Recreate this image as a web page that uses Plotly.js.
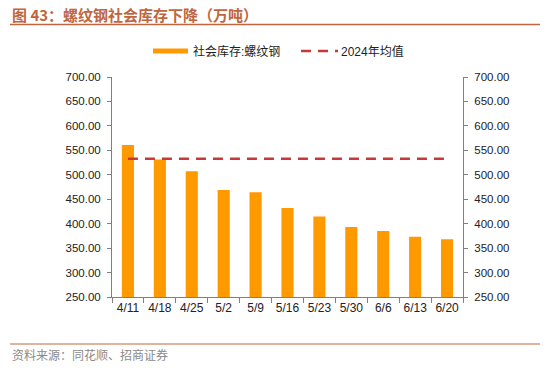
<!DOCTYPE html>
<html><head><meta charset="utf-8">
<script src="https://cdn.plot.ly/plotly-3.0.1.min.js"></script>
<style>html,body{margin:0;padding:0;background:#fff;}#c{width:550px;height:370px;}</style>
</head><body><div id="c"></div>
<script>
const categories = ["4/11","4/18","4/25","5/2","5/9","5/16","5/23","5/30","6/6","6/13","6/20"];
const stockValues = [561, 531, 507, 469, 464.5, 432, 414.5, 393, 385, 373, 368];
const avg2024 = [533, 533, 533, 533, 533, 533, 533, 533, 533, 533, 533];
const seriesNames = ["社会库存:螺纹钢", "2024年均值"];
const titleText = "图 43：螺纹钢社会库存下降（万吨）";
const sourceText = "资料来源：同花顺、招商证券";

const font = "Arial, 'Liberation Sans', 'Noto Sans CJK SC', sans-serif";
const barColor = "#FF9900", lineColor = "#C8383A", brand = "#C0663E";
const traces = [
  {type:"bar", x:categories, y:stockValues, name:seriesNames[0], marker:{color:barColor}, width:0.38},
  {type:"scatter", mode:"lines", x:categories, y:avg2024, name:seriesNames[1], line:{color:lineColor, width:2.5, dash:"10px,7px"}, yaxis:"y2"}
];
const axisCommon = {range:[250,700], dtick:50, tick0:250, tickformat:".2f", showgrid:false, zeroline:false,
  showline:true, linecolor:"#808080", linewidth:1, ticks:"outside", ticklen:4, tickcolor:"#808080",
  ticklabelstandoff:4, tickfont:{family:font, size:11.5, color:"#222"}};
const L = 112, R = 463, T = 77, B = 297;
const pw = R - L, ph = B - T;
const px = x => (x - L) / pw, py = y => (B - y) / ph;
const layout = {
  width:550, height:370, margin:{l:L, r:550-R, t:T, b:370-B},
  paper_bgcolor:"#fff", plot_bgcolor:"#fff", font:{family:font},
  showlegend:false,
  xaxis:{type:"category", showline:true, linecolor:"#808080", ticks:"outside", tickson:"boundaries", ticklen:5, tickcolor:"#808080",
    tickangle:0, tickfont:{family:font, size:12, color:"#222"}, showgrid:false},
  yaxis:Object.assign({}, axisCommon),
  yaxis2:Object.assign({}, axisCommon, {overlaying:"y", side:"right"}),
  annotations:[
    {text:"<b>"+titleText+"</b>", xref:"paper", yref:"paper", x:px(10), y:py(14), xanchor:"left", yanchor:"middle", showarrow:false,
     font:{family:"'Noto Sans CJK SC', sans-serif", size:15, color:brand}},
    {text:sourceText, xref:"paper", yref:"paper", x:px(10), y:py(354), xanchor:"left", yanchor:"middle", showarrow:false,
     font:{family:"'Noto Sans CJK SC', sans-serif", size:12, color:"#8a8a8a"}},
    {text:seriesNames[0], xref:"paper", yref:"paper", x:px(191), y:py(51), xanchor:"left", yanchor:"middle", showarrow:false,
     font:{family:font, size:12, color:"#222"}},
    {text:seriesNames[1], xref:"paper", yref:"paper", x:px(339), y:py(51), xanchor:"left", yanchor:"middle", showarrow:false,
     font:{family:font, size:12, color:"#222"}}
  ],
  shapes:[
    {type:"line", xref:"paper", yref:"paper", x0:px(10), x1:px(540), y0:py(24.5), y1:py(24.5), line:{color:brand, width:1.5}},
    {type:"line", xref:"paper", yref:"paper", x0:px(10), x1:px(540), y0:py(344), y1:py(344), line:{color:brand, width:1}},
    {type:"rect", xref:"paper", yref:"paper", x0:px(153), x1:px(188), y0:py(48.5), y1:py(53.5), fillcolor:barColor, line:{width:0}},
    {type:"line", xref:"paper", yref:"paper", x0:px(301), x1:px(338), y0:py(51), y1:py(51), line:{color:lineColor, width:2.5, dash:"10px,7px"}}
  ]
};
Plotly.newPlot("c", traces, layout, {staticPlot:true, displayModeBar:false});
</script></body></html>
